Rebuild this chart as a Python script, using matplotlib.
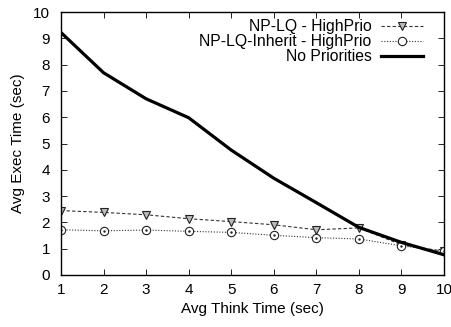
import matplotlib
matplotlib.use("Agg")
import matplotlib.pyplot as plt

plt.rcParams['font.family'] = ['Liberation Sans', 'DejaVu Sans']

think_time = [1, 2, 3, 4, 5, 6, 7, 8, 9, 10]
np_lq_high = [2.45, 2.38, 2.29, 2.14, 2.03, 1.91, 1.72, 1.79, 1.15, 0.90]
np_lq_inherit_high = [1.72, 1.68, 1.71, 1.66, 1.62, 1.51, 1.42, 1.37, 1.11, 0.90]
no_priorities = [9.22, 7.69, 6.70, 5.98, 4.75, 3.68, 2.75, 1.81, 1.24, 0.77]

labels = ["NP-LQ - HighPrio", "NP-LQ-Inherit - HighPrio", "No Priorities"]

fig = plt.figure(figsize=(4.51, 3.27), dpi=100)
ax = fig.add_axes([61/451, 1-275/327, (444-61)/451, (275-12)/327])

ax.plot(think_time, np_lq_high, linestyle=(0, (3, 2)), color='#333333', lw=0.8,
        marker='v', markersize=5.5, markerfacecolor='#bbbbbb', markeredgecolor='#222222',
        markeredgewidth=0.8, label=labels[0])
ax.plot(think_time, np_lq_inherit_high, linestyle=(0, (1, 1.5)), color='#333333', lw=0.8,
        marker='o', markersize=6, markerfacecolor='white', markeredgecolor='#222222',
        markeredgewidth=0.8, label=labels[1])
ax.plot(think_time, np_lq_inherit_high, linestyle='none', marker='.', markersize=1.5,
        color='#222222')
ax.plot(think_time, no_priorities, linestyle='-', color='black', lw=2.3, label=labels[2])

ax.set_xlim(1, 10)
ax.set_ylim(0, 10)
ax.set_xticks(range(1, 11))
ax.set_yticks(range(0, 11))
ax.tick_params(direction='in', top=True, right=True, length=4, width=0.6,
               labelsize=11, pad=6)
ax.tick_params(axis='y', pad=8)
for s in ax.spines.values():
    s.set_linewidth(1.0)
ax.set_xlabel("Avg Think Time (sec)", fontsize=11, labelpad=3)
ax.set_ylabel("Avg Exec Time (sec)", fontsize=11, labelpad=6)

h, l = ax.get_legend_handles_labels()
ax.legend(h, l, loc='upper right', frameon=False, markerfirst=False, fontsize=11.3,
          handlelength=2.7, handletextpad=0.6, labelspacing=0.0,
          borderaxespad=0.0, borderpad=0.2, bbox_to_anchor=(0.954, 0.985))

fig.savefig("out.png", dpi=100)
